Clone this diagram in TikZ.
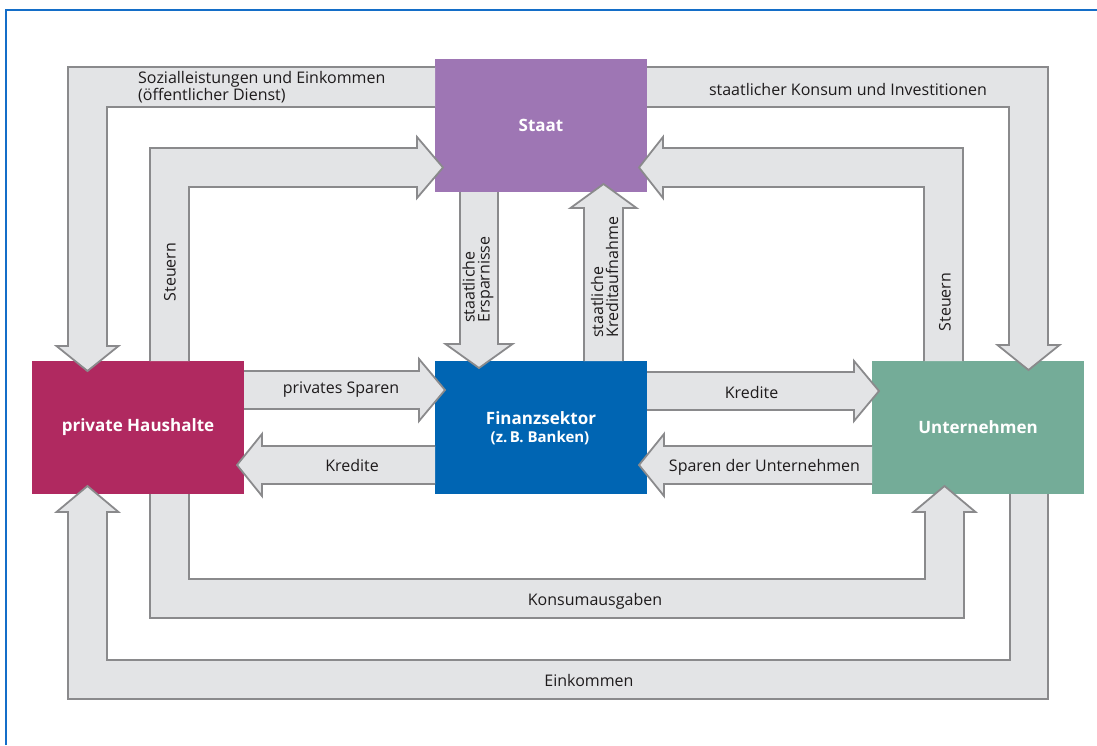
\documentclass[tikz,border=0pt]{standalone}
\usepackage{fontspec}
\setmainfont{Open Sans}
\definecolor{cstaat}{RGB}{158,118,180}
\definecolor{chh}{RGB}{176,41,96}
\definecolor{cfin}{RGB}{0,101,179}
\definecolor{cunt}{RGB}{116,172,152}
\definecolor{afillc}{RGB}{227,228,230}
\definecolor{alinec}{RGB}{138,138,140}
\definecolor{txt}{RGB}{30,27,28}
\definecolor{framec}{RGB}{20,110,200}
\newcommand{\flowarrow}[1]{\fill[afill] #1 -- cycle; \draw[aline] #1;}
\begin{document}
\begin{tikzpicture}[x=1pt,y=-1pt,
  sector/.style={minimum width=212pt,minimum height=133pt,inner sep=0pt,draw=none,text=white,
    font=\fontsize{17}{19}\selectfont\bfseries,align=center},
  afill/.style={fill=afillc},
  aline/.style={draw=alinec,line width=1.8pt,line join=miter},
  lbl/.style={font=\fontsize{16}{17}\selectfont,text=txt,inner sep=0pt},
  framel/.style={draw=framec,line width=1.4pt}]
\useasboundingbox (0,0) rectangle (1097,745);
\draw[framel] (6,745) -- (6,10) -- (1097,10);
% sectors
\node[sector,fill=cstaat] (staat) at (541,125.5) {Staat};
\node[sector,fill=chh] (hh) at (138,427.5) {private Haushalte};
\node[sector,fill=cfin] (fin) at (541,427.5) {};
\node[sector,fill=cunt] (unt) at (978,427.5) {Unternehmen};
\node[text=white,font=\fontsize{17}{19}\selectfont\bfseries,inner sep=0pt] (finlbl) at (541,418) {Finanzsektor};
\node[text=white,font=\fontsize{15}{17}\selectfont\bfseries,inner sep=0pt] (finsub) at (540,438) {(z.\,B. Banken)};
% block arrows
\flowarrow{(435,107) -- (107,107) -- (107,346) -- (118.5,346) -- (87.5,371) -- (56.5,346) -- (68,346) -- (68,67) -- (435,67)}
\flowarrow{(647,67) -- (1048,67) -- (1048,345) -- (1059.5,345) -- (1028.5,370) -- (997.5,345) -- (1009,345) -- (1009,107) -- (647,107)}
\flowarrow{(150,361) -- (150,148) -- (417,148) -- (417,137) -- (443,167.5) -- (417,198) -- (417,187) -- (189,187) -- (189,361)}
\flowarrow{(963,361) -- (963,148) -- (663,148) -- (663,137) -- (639,167.5) -- (663,198) -- (663,187) -- (924,187) -- (924,361)}
\flowarrow{(460,192) -- (460,344) -- (445.5,344) -- (479,368) -- (512.5,344) -- (498,344) -- (498,192)}
\flowarrow{(584,361) -- (584,208) -- (570.5,208) -- (603.5,184) -- (636.5,208) -- (623,208) -- (623,361)}
\flowarrow{(244,371) -- (419,371) -- (419,359) -- (445,390) -- (419,421) -- (419,409) -- (244,409)}
\flowarrow{(435,446) -- (262,446) -- (262,434) -- (237,465) -- (262,496) -- (262,484) -- (435,484)}
\flowarrow{(647,372) -- (854,372) -- (854,361) -- (879,391) -- (854,421) -- (854,410) -- (647,410)}
\flowarrow{(872,446) -- (664,446) -- (664,434) -- (639,465) -- (664,496) -- (664,484) -- (872,484)}
\flowarrow{(150,494) -- (150,618) -- (964,618) -- (964,512) -- (975.5,512) -- (944.5,486) -- (913.5,512) -- (925,512) -- (925,579) -- (189,579) -- (189,494)}
\flowarrow{(1048,494) -- (1048,699) -- (68,699) -- (68,512) -- (56.5,512) -- (87.5,486) -- (118.5,512) -- (107,512) -- (107,660) -- (1010,660) -- (1010,494)}
% labels
\node[lbl,anchor=west,align=left,font=\fontsize{16}{17}\selectfont] (l1) at (138,87.5) {Sozialleistungen und Einkommen\\(öffentlicher Dienst)};
\node[lbl] (l2) at (848,89) {staatlicher Konsum und Investitionen};
\node[lbl,rotate=90] (l3) at (170,272) {Steuern};
\node[lbl,rotate=90] (l4) at (945,302) {Steuern};
\node[lbl,rotate=90,anchor=west,align=left,font=\fontsize{16}{15}\selectfont] (l5) at (478,323) {staatliche\\Ersparnisse};
\node[lbl,rotate=90,anchor=west,align=left,font=\fontsize{16}{15}\selectfont] (l6) at (604.5,338) {staatliche\\Kreditaufnahme};
\node[lbl] (l7) at (341,390) {privates Sparen};
\node[lbl] (l8) at (352,465) {Kredite};
\node[lbl] (l9) at (751.5,392) {Kredite};
\node[lbl] (l10) at (764.5,467) {Sparen der Unternehmen};
\node[lbl] (l11) at (595,601) {Konsumausgaben};
\node[lbl] (l12) at (589,680) {Einkommen};
\end{tikzpicture}
\end{document}
